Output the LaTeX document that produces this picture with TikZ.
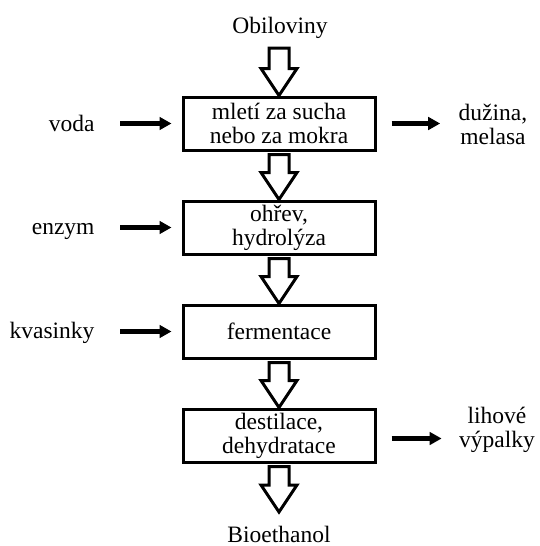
\documentclass[tikz,border=0pt]{standalone}
\usepackage{fontspec}
\setmainfont{Liberation Serif}
\usetikzlibrary{arrows.meta,calc}
\newcommand\hollowarrow[2]{%
  \draw[hollow] let \p1=(#1), \p2=(#2) in
    (\x1-10pt,\y1) -- (\x1-10pt,\y2+27pt) -- (\x1-18pt,\y2+27pt) -- (\x2,\y2)
    -- (\x1+18pt,\y2+27pt) -- (\x1+10pt,\y2+27pt) -- (\x1+10pt,\y1) -- cycle;}
\begin{document}
\begin{tikzpicture}[x=1pt,y=-1pt,
  font=\fontsize{23.5pt}{24pt}\selectfont,
  box/.style={draw, line width=3pt, minimum width=192pt, minimum height=53pt,
    inner sep=0pt, align=center},
  lbl/.style={anchor=base east},
  rlbl/.style={align=center},
  side/.style={line width=4.4pt, -{Triangle[length=12pt,width=12.5pt]}},
  hollow/.style={draw, line width=3pt, line join=miter, fill=white}]
\useasboundingbox (0,0) rectangle (539,546);
\fill[white] (0,0) rectangle (539,546);

% main boxes
\node[box] (b1) at (279,123.5) {mletí za sucha\\nebo za mokra};
\node[box] (b2) at (279,227.5) {ohřev,\\hydrolýza};
\node[box] (b3) at (279,331.5) {fermentace};
\node[box] (b4) at (279,435.5) {destilace,\\dehydratace};

% source and product
\node[anchor=base] (src) at (280,33) {Obiloviny};
\node[anchor=base] (bio) at (279,542) {Bioethanol};
\coordinate (t0) at (279,48);
\coordinate (t5) at (279,512);

% hollow flow arrows
\hollowarrow{t0}{b1.north}
\hollowarrow{[yshift=-3pt]b1.south}{b2.north}
\hollowarrow{[yshift=-3pt]b2.south}{b3.north}
\hollowarrow{[yshift=-3pt]b3.south}{b4.north}
\hollowarrow{[yshift=-3pt]b4.south}{t5}

% inputs
\node[lbl] (voda) at (98,131) {voda};
\node[lbl] (enz) at (98,234) {enzym};
\node[lbl] (kva) at (98,338) {kvasinky};
\draw[side, shorten <=22pt, shorten >=10pt] (b1.west -| voda.east) -- (b1.west);
\draw[side, shorten <=22pt, shorten >=10pt] (b2.west -| enz.east) -- (b2.west);
\draw[side, shorten <=22pt, shorten >=10pt] (b3.west -| kva.east) -- (b3.west);

% outputs
\node[rlbl] (duz) at (493,124) {dužina,\\melasa};
\node[rlbl] (vyp) at (497,430) {lihové\\výpalky};
\draw[side, shorten <=15pt, shorten >=15pt] (b1.east) -- (b1.east -| duz.west);
\draw[side, shorten <=15pt, shorten >=14pt] ([yshift=-3pt]b4.east) -- ([yshift=-3pt]b4.east -| vyp.west);
\end{tikzpicture}
\end{document}
